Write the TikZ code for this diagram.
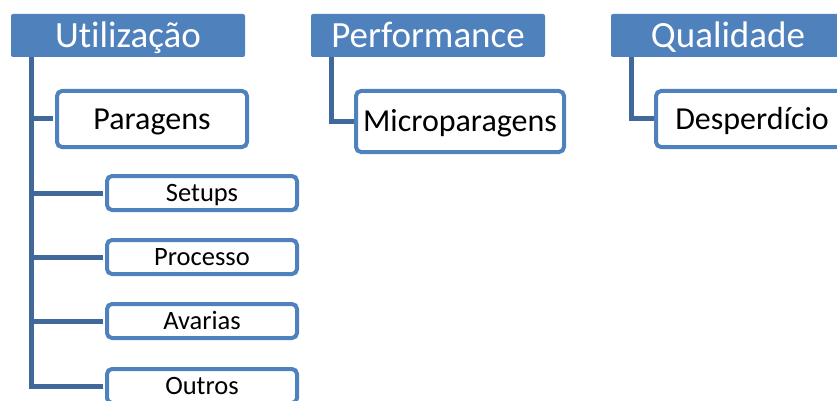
\documentclass[tikz,border=0pt]{standalone}
\usepackage{fontspec}
\setmainfont{Carlito}[Ligatures={NoCommon}]
\usetikzlibrary{positioning}
\definecolor{boxblue}{HTML}{4F81BD}
\definecolor{linkblue}{HTML}{41689A}

\begin{document}
\begin{tikzpicture}[x=1pt,y=-1pt,
every node/.style={text depth=0pt,inner sep=0pt},
head/.style={rectangle,rounded corners=2pt,fill=boxblue,text=white,minimum width=234pt,minimum height=43pt,text height=23.5pt,font=\fontsize{37}{40}\selectfont},
item/.style={rectangle,rounded corners=5pt,draw=boxblue,line width=4pt,fill=white,minimum width=190pt,minimum height=56pt,text height=20.5pt,font=\fontsize{32}{35}\selectfont},
sub/.style={item,minimum height=34pt,text height=17pt,font=\fontsize{26.5}{29}\selectfont},
link/.style={draw=linkblue,line width=5pt}
]
\useasboundingbox (0,0) rectangle (837,401);

\node[head] (util) at (128,35.5) {Utilização};
\node[head] (perf) at (428,35.5) {Performance};
\node[head] (qual) at (728,35.5) {Qualidade};

\coordinate (utrunk) at ([xshift=21pt]util.south west);
\draw[link] (perf.south west) ++(21,0) |- (360,121.5);
\draw[link] (qual.south west) ++(21,0) |- (660,119);

\node[item] (par) at (152,119) {Paragens};
\node[item,minimum width=208pt,minimum height=61pt] (micro) at (460,121.5) {Microparagens};
\node[item,minimum width=192pt] (desp) at (752,119) {Desperdício};

\foreach \name/\txt/\y in {setups/Setups/193,processo/Processo/257,avarias/Avarias/321,outros/Outros/386}{
  \node[sub] (\name) at (202,\y) {\txt};
  \draw[link] (utrunk |- \name.west) -- ([xshift=-2pt]\name.west);
}
\draw[link] (utrunk) -- (utrunk |- outros.west) -- ([xshift=-2pt]outros.west);
\draw[link] (utrunk |- par.west) -- ([xshift=-2pt]par.west);
\end{tikzpicture}
\end{document}
